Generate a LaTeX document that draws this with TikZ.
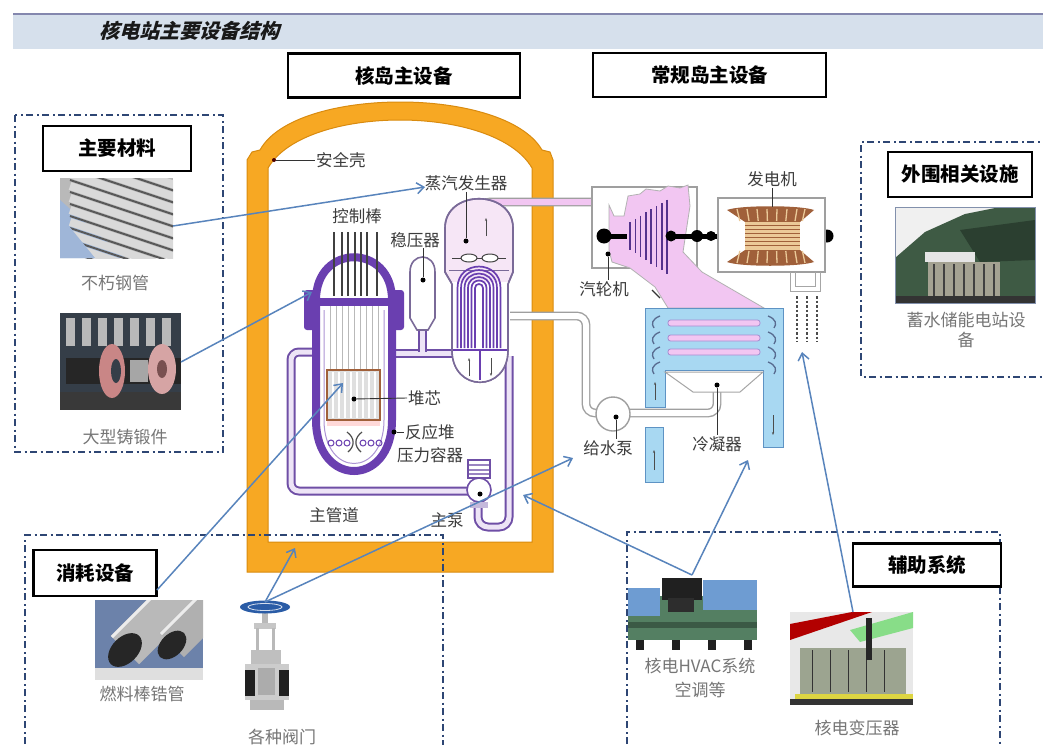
\documentclass[tikz,border=0pt]{standalone}
\usepackage{fontspec}
\newfontfamily\cjk{Noto Sans CJK SC}
\newfontfamily\cjktitle[FakeSlant=0.28]{Noto Sans CJK SC}
\usetikzlibrary{arrows.meta,calc}
\definecolor{hdr}{HTML}{D6E0EC}
\definecolor{hdrline}{HTML}{8487AE}
\definecolor{navy}{HTML}{2E4674}
\definecolor{cont}{HTML}{F7A823}
\definecolor{contedge}{HTML}{D98B0F}
\definecolor{vpurple}{HTML}{6A3FB0}
\definecolor{pipeout}{HTML}{6F4FA6}
\definecolor{pipein}{HTML}{EDE4F6}
\definecolor{sgpink}{HTML}{F6E6F6}
\definecolor{sgedge}{HTML}{7A6A98}
\definecolor{tpink}{HTML}{F2C6F2}
\definecolor{condblue}{HTML}{A8D8F2}
\definecolor{condedge}{HTML}{5E93C4}
\definecolor{linkblue}{HTML}{5884BC}
\definecolor{lblgray}{HTML}{3C3C3C}
\definecolor{plblgray}{HTML}{767676}
\definecolor{coilbrown}{HTML}{A0603A}
\definecolor{coretan}{HTML}{EBC998}
\definecolor{photoblue}{HTML}{9FB6D8}
\definecolor{forgedark}{HTML}{353E48}
\definecolor{pinkdisc}{HTML}{C98686}
\definecolor{hillgreen}{HTML}{3E5A44}
\definecolor{damgray}{HTML}{A4A292}
\definecolor{tubebg}{HTML}{6C82AA}
\definecolor{valveblue}{HTML}{2A5CA6}
\definecolor{hvacgreen}{HTML}{547F62}
\definecolor{hvacblue}{HTML}{6E9CD2}
\definecolor{tankgray}{HTML}{9CA490}
\tikzset{
  titlebox/.style={draw=black, line width=2.8pt, fill=white, inner sep=0pt,
    font=\cjk\bfseries\fontsize{19.5}{19.5}\selectfont},
  ddbox/.style={draw=navy, line width=2.2pt, dash pattern=on 7pt off 3.5pt on 2pt off 3.5pt},
  lbl/.style={font=\cjk\fontsize{16.5}{16.5}\selectfont, text=lblgray, inner sep=1pt},
  plbl/.style={font=\cjk\fontsize{17}{17}\selectfont, text=plblgray, inner sep=1pt},
  link/.style={draw=linkblue, line width=1.5pt, -{Straight Barb[length=7pt,width=11pt]}},
  leader/.style={draw=black!80, line width=0.9pt},
  dotc/.style={circle, fill=black, inner sep=0pt, minimum size=5pt},
  rpipe/.style={draw=pipeout, double=pipein, double distance=5pt, line width=2pt},
  fwpipe/.style={draw=gray!75, double=white, double distance=6pt, line width=1.4pt, rounded corners=9pt},
  stpipe/.style={draw=gray!75, double=tpink, double distance=6pt, line width=1.4pt, rounded corners=8pt},
  vessel/.style={draw=vpurple, line width=8pt},
  photo/.style={draw=none, inner sep=0pt},
}
\begin{document}
\begin{tikzpicture}[x=1pt,y=-1pt]
\useasboundingbox (0,0) rectangle (1043,744);
\clip (0,0) rectangle (1043,744);
\fill[white] (0,0) rectangle (1043,744);

% ---------- header ----------
\fill[hdr] (13,14) rectangle (1043,49);
\draw[hdrline, line width=2pt] (13,14) -- (1043,14);
\node[font=\cjktitle\bfseries\fontsize{20}{20}\selectfont, text=black!90] (title) at (189,31) {核电站主要设备结构};

% ---------- containment ----------
\fill[cont, draw=contedge, line width=1pt, even odd rule]
  (247,572) -- (247,160) -- (252,152) -- (260,150) .. controls (295,86) and (505,86) .. (542,150) -- (550,152) -- (553,160) -- (553,572) -- cycle
  (268,542) -- (268,168) .. controls (305,104) and (495,104) .. (532,168) -- (532,542) -- cycle;
\node[dotc, fill=black!70!red, minimum size=4pt] (dcont) at (274,160) {};
\node[lbl, anchor=west] (lcont) at (315,160) {安全壳};
\draw[leader] (dcont) -- (lcont.west);

% ---------- steam & feedwater pipes ----------
\draw[stpipe] (482,212) -- (482,202) -- (614,202) -- (614,224);
\draw[fwpipe] (510,316) -- (586,316) -- (586,413) -- (600,413);
\draw[fwpipe] (628,413) -- (717,413) -- (717,384);

% ---------- reactor coolant loop ----------
\draw[rpipe, rounded corners=8pt] (318,352) -- (291,352) -- (291,491) -- (470,491);
\draw[rpipe] (392,353) -- (458,353);
\draw[rpipe, rounded corners=10pt] (478,500) -- (478,527) -- (509,527) -- (509,356);
\draw[rpipe] (422,320) -- (422,352);

% main pump
\node[circle, draw=pipeout, line width=1.6pt, fill=white, minimum size=24pt, inner sep=0pt] (mpump) at (479,490) {};
\fill[white, draw=pipeout, line width=1.4pt] (468,460) rectangle (490,478);
\foreach \yy in {465,470,474} \draw[pipeout!70, line width=1.5pt] (469,\yy) -- (489,\yy);
\fill[pipeout!40] (470,502) rectangle (488,508);
\node[dotc] (dpump) at (480,494) {};
\node[lbl] (lpump) at (447,520) {主泵};
\node[lbl] (lpipe) at (334,515) {主管道};

% ---------- reactor pressure vessel ----------
\fill[white] (316,300) .. controls (316,243) and (392,243) .. (392,300) -- (392,420) .. controls (392,488) and (316,488) .. (316,420) -- cycle;
\draw[vessel] (316,300) .. controls (316,243) and (392,243) .. (392,300);
\draw[vessel] (316,306) -- (316,420) .. controls (316,488) and (392,488) .. (392,420) -- (392,306);
\fill[vpurple, rounded corners=3pt] (304,290) rectangle (319,330);
\fill[vpurple, rounded corners=3pt] (389,290) rectangle (404,330);
\fill[vpurple] (312,298) rectangle (396,306);
\draw[vpurple!55, line width=1pt] (324,310) -- (324,420) .. controls (324,478) and (384,478) .. (384,420) -- (384,310);
% guide tubes and control rods
\foreach \x in {330,336,342,348,354,360,366,372,378}
  \draw[gray!55, line width=1pt] (\x,306) -- (\x,370);
\foreach \x in {334,342,348,355,361,367,377}
  \draw[black!75, line width=1.3pt] (\x,232) -- (\x,296);
\node[lbl] (lrods) at (357,216) {控制棒};
% core
\draw[coilbrown, line width=2.2pt, fill=gray!25] (327,370) rectangle (380,420);
\foreach \x in {333,339,345,351,357,363,369,375}
  \draw[white, line width=1.2pt] (\x,372) -- (\x,418);
\fill[pink!60] (327,421) rectangle (380,426);
% lower internals
\foreach \x in {331,339,347,363,371,379}
  \draw[vpurple, line width=1pt] (\x,443) circle (3);
\draw[black!70, line width=1.2pt] (347,432) .. controls (355,438) and (355,446) .. (348,452);
\draw[black!70, line width=1.2pt] (362,432) .. controls (354,438) and (354,446) .. (361,452);
\node[dotc] (dcore) at (354,399) {};
\node[lbl, anchor=west] (lcore) at (407,398) {堆芯};
\draw[leader] (dcore) -- (lcore.west);
\node[dotc] (dvessel) at (394,432) {};
\node[lbl, anchor=west] (lvessel) at (404,432) {反应堆};
\node[lbl, anchor=west] (lvessel2) at (396,455) {压力容器};
\draw[leader] (dvessel) -- (lvessel.west);

% ---------- pressurizer ----------
\draw[sgedge, line width=1.6pt, fill=white] (410,318) -- (410,272) .. controls (410,252) and (435,252) .. (435,272) -- (435,318) -- (428,330) -- (417,330) -- cycle;
\node[dotc] (dpzr) at (423,280) {};
\node[lbl] (lpzr) at (415,240) {稳压器};
\draw[leader] (423,248) -- (dpzr);

% ---------- steam generator ----------
\path[fill=sgpink, draw=sgedge, line width=1.6pt]
  (445,272) -- (445,228) .. controls (445,189) and (513,189) .. (513,228) -- (513,272) -- (508,284) -- (508,350) .. controls (508,393) and (452,393) .. (452,350) -- (452,284) -- cycle;
\begin{scope}
  \clip (445,272) -- (445,228) .. controls (445,189) and (513,189) .. (513,228) -- (513,272) -- (508,284) -- (508,350) .. controls (508,393) and (452,393) .. (452,350) -- (452,284) -- cycle;
  \fill[white] (440,282) rectangle (520,400);
\end{scope}
\draw[sgedge, line width=1.6pt] (445,272) -- (445,228) .. controls (445,189) and (513,189) .. (513,228) -- (513,272) -- (508,284) -- (508,350) .. controls (508,393) and (452,393) .. (452,350) -- (452,284) -- cycle;
\draw[sgedge, line width=1pt] (449,270) -- (509,270);
\foreach \r in {4,7.5,11,14.5,18,21.5}
  \draw[vpurple, line width=1.7pt] (479-\r,348) -- (479-\r,288) .. controls (479-\r,288-1.33*\r) and (479+\r,288-1.33*\r) .. (479+\r,288) -- (479+\r,348);
\draw[vpurple, line width=2pt] (453,350) -- (507,350);
\draw[vpurple, line width=1.2pt] (480,350) -- (480,380);
\draw[black!70, line width=1pt, -{Stealth[length=3pt]}] (469,376) -- (469,358);
\draw[black!70, line width=1pt, -{Stealth[length=3pt]}] (491,358) -- (491,376);
\draw[black!75, line width=1pt] (452,258) -- (506,258);
\draw[black!75, line width=1pt, fill=white] (469,258) ellipse (8 and 4);
\draw[black!75, line width=1pt, fill=white] (490,258) ellipse (8 and 4);
\draw[black!70, line width=1pt, -{Stealth[length=3pt]}] (486,236) -- (486,218);
\node[dotc] (dsg) at (466,241) {};
\node[lbl] (lsg) at (466,183) {蒸汽发生器};
\draw[leader] (lsg.south -| dsg) -- (dsg);

% ---------- turbine ----------
\draw[gray!75, line width=1.2pt, fill=white] (592,187) rectangle (697,268);
\fill[tpink, draw=gray!60, line width=0.8pt] (609,205) -- (614,216) -- (624,216) -- (628,196) -- (640,194) -- (646,189) -- (660,191) -- (668,186) -- (680,188) -- (688,185) -- (690,206) -- (683,252) -- (702,272) -- (764,308) -- (668,308) -- (655,287) -- (630,268) -- (612,262) -- (609,250) -- cycle;
\foreach \i in {0,...,7} {
  \pgfmathsetmacro\xx{630+\i*5.3}
  \pgfmathsetmacro\yt{222-\i*3.2}
  \pgfmathsetmacro\yb{250+\i*3.4}
  \draw[vpurple!80!black, line width=1.6pt] (\xx,\yt) -- (\xx,\yb);
}
\draw[black!80, line width=1.2pt] (652,290) -- (660,298);
% shaft
\draw[black, line width=5pt] (597,236) -- (627,236);
\draw[black, line width=5pt] (668,236) -- (831,236);
\fill[black] (604,236) circle (7.5);
\fill[black] (671,236) circle (5.5);
\fill[black] (697,236) circle (6);
\fill[black] (711,236) circle (5);
\fill[black] (827,236) circle (6.5);
\node[dotc] (dturb) at (608,254) {};
\node[lbl] (lturb) at (604,289) {汽轮机};
\draw[leader] (dturb) -- (lturb.north -| dturb);

% ---------- generator ----------
\draw[gray!75, line width=1.2pt, fill=white] (718,198) rectangle (825,272);
\fill[coilbrown] (727,210) .. controls (740,205) and (800,205) .. (814,210) -- (800,222) -- (745,222) -- cycle;
\fill[coilbrown] (727,262) .. controls (740,267) and (800,267) .. (814,262) -- (800,250) -- (745,250) -- cycle;
\foreach \x in {737,747,757,767,777,787,797,805} {
  \pgfmathsetmacro\xb{\x+(772-\x)*0.08}
  \draw[coretan, line width=1.3pt] (\x,209) -- (\xb,221) (\x,263) -- (\xb,251);
}
\fill[coretan] (745,222) rectangle (800,250);
\foreach \yy in {225,229,233,237,241,245}
  \draw[coilbrown, line width=1pt] (745,\yy) -- (800,\yy);
\draw[gray!70, line width=1pt] (790,272) -- (790,291) -- (820,291) -- (820,272);
\draw[gray!70, line width=1pt] (795,272) -- (795,286) -- (815,286) -- (815,272);
\foreach \x in {797,807,817}
  \draw[black!70, line width=1.6pt, dash pattern=on 2.5pt off 2pt] (\x,296) -- (\x,342);
\node[lbl] (lgen) at (772,179) {发电机};
\draw[leader] (lgen.south) -- (772,207);

% ---------- condenser ----------
\fill[condblue, draw=condedge, line width=1pt] (645,308) -- (783,308) -- (783,447) -- (763,447) -- (763,370) -- (665,370) -- (665,407) -- (645,407) -- cycle;
\fill[condblue, draw=condedge, line width=1pt] (645,427) rectangle (663,482);
\foreach \yy in {323,338,352}
  \fill[tpink, draw=vpurple!60, line width=0.8pt, rounded corners=2.5pt] (668,\yy-3) rectangle (760,\yy+3);
\foreach \yy in {316,332,347,362} {
  \draw[navy!80, line width=1.3pt] (660,\yy) .. controls (652,\yy+3) and (651,\yy+8) .. (654,\yy+12);
  \draw[navy!80, line width=1.3pt] (768,\yy) .. controls (776,\yy+3) and (777,\yy+8) .. (774,\yy+12);
}
\fill[white, draw=gray!70, line width=1pt] (665,372) -- (763,372) -- (740,392) -- (693,392) -- cycle;
\draw[black!70, line width=1pt, -{Stealth[length=3pt]}] (655,400) -- (655,382);
\draw[black!70, line width=1pt, -{Stealth[length=3pt]}] (654,470) -- (654,450);
\draw[black!70, line width=1pt, -{Stealth[length=3pt]}] (773,415) -- (773,435);
\node[dotc] (dcond) at (717,385) {};
\node[lbl] (lcond) at (717,444) {冷凝器};
\draw[leader] (dcond) -- (lcond.north);

% feedwater pump
\node[circle, draw=gray!75, line width=1.4pt, fill=white, minimum size=34pt, inner sep=0pt] (fwpump) at (613,414) {};
\node[dotc] (dfw) at (616,417) {};
\node[lbl] (lfw) at (608,448) {给水泵};
\draw[leader] (dfw) -- (lfw.north -| dfw);

% ---------- title boxes ----------
\node[titlebox, minimum width=232pt, minimum height=44pt] (bnuc) at (404,75.5) {核岛主设备};
\node[titlebox, minimum width=233pt, minimum height=44pt] (bconv) at (709.5,75) {常规岛主设备};

% ---------- left group: main materials ----------
\draw[ddbox] (15,115) rectangle (223,452);
\node[titlebox, minimum width=148pt, minimum height=45pt] (bmat) at (117,148.5) {主要材料};
\begin{scope}
  \clip (60,178) rectangle (173,258);
  \fill[gray!55] (60,178) rectangle (173,258);
  \fill[photoblue] (60,200) -- (60,258) -- (125,258) -- cycle;
  \foreach \k in {0,...,8} {
    \draw[line width=8pt, gray!30] (70,150+\k*12) -- (175,185+\k*12);
    \draw[line width=2pt, gray!70!black] (70,156+\k*12) -- (175,191+\k*12);
  }
  \fill[photoblue] (60,215) -- (60,258) -- (95,258) -- cycle;
\end{scope}
\node[photo, minimum width=113pt, minimum height=80pt] (ppipe) at (116.5,218) {};
\node[plbl] (lppipe) at (115,283) {不朽钢管};
\begin{scope}
  \clip (60,313) rectangle (181,410);
  \fill[forgedark] (60,313) rectangle (181,410);
  \foreach \x in {66,82,98,114,130,146,162}
    \fill[gray!55] (\x,318) rectangle (\x+9,346);
  \fill[gray!45!black] (60,392) rectangle (181,410);
  \fill[gray!30!black] (66,358) rectangle (181,384);
  \fill[pinkdisc] (112,371) ellipse (13 and 27);
  \fill[forgedark] (116,371) ellipse (5 and 12);
  \fill[pinkdisc!75!white] (162,369) ellipse (14 and 25);
  \fill[pinkdisc!60!black] (162,369) ellipse (5 and 9);
  \fill[gray!70] (130,360) rectangle (148,382);
\end{scope}
\node[photo, minimum width=121pt, minimum height=97pt] (pforge) at (120.5,361.5) {};
\node[plbl] (lpforge) at (125,437) {大型铸锻件};

% ---------- right group: peripheral facilities ----------
\draw[ddbox] (1050,142) -- (861,142) -- (861,377) -- (1050,377);
\node[titlebox, minimum width=144pt, minimum height=45pt] (bperi) at (960,174.5) {外围相关设施};
\begin{scope}
  \clip (895,207) rectangle (1035,303);
  \fill[gray!12] (895,207) rectangle (1035,303);
  \fill[hillgreen] (895,258) -- (925,232) -- (965,214) -- (1000,207) -- (1035,207) -- (1035,303) -- (895,303) -- cycle;
  \fill[hillgreen!70!black] (960,230) -- (1035,220) -- (1035,260) -- (980,262) -- cycle;
  \fill[gray!20] (925,252) rectangle (975,262);
  \fill[damgray] (928,262) rectangle (1000,298);
  \foreach \x in {934,944,954,964,974,984,994}
    \draw[gray!50!black, line width=1.5pt] (\x,264) -- (\x,296);
  \fill[gray!40!black] (895,296) rectangle (1035,303);
\end{scope}
\node[photo, draw=navy!60, line width=0.8pt, minimum width=140pt, minimum height=96pt] (pstore) at (965,255) {};
\node[plbl] (lpstore) at (966,320) {蓄水储能电站设};
\node[plbl] (lpstore2) at (966,340) {备};

% ---------- bottom-left group: consumables ----------
\draw[ddbox] (25,760) -- (25,535) -- (443,535) -- (443,760);
\node[titlebox, minimum width=123pt, minimum height=46pt] (bcons) at (95,573) {消耗设备};
\begin{scope}
  \clip (95,600) rectangle (203,680);
  \fill[tubebg] (95,600) rectangle (203,680);
  \fill[gray!25] (95,668) rectangle (203,680);
  \draw[line width=40pt, gray!55] (125,650) -- (185,590);
  \draw[line width=3pt, gray!15] (112,637) -- (172,577);
  \draw[line width=34pt, gray!62] (172,645) -- (225,592);
  \draw[line width=3pt, gray!15] (161,634) -- (214,581);
  \fill[black!85, rotate around={45:(125,650)}] (125,650) ellipse (20 and 13);
  \fill[black!85, rotate around={45:(172,645)}] (172,645) ellipse (17 and 11);
\end{scope}
\node[photo, minimum width=108pt, minimum height=80pt] (ptube) at (149,640) {};
\node[plbl] (lptube) at (142,694) {燃料棒锆管};
% valve
\fill[gray!55] (262,611) rectangle (268,626);
\fill[gray!45] (254,623) rectangle (276,629);
\draw[gray!55, line width=3pt] (257,628) -- (257,652) (273,628) -- (273,652);
\fill[gray!50] (251,650) rectangle (281,664);
\fill[gray!40] (245,664) rectangle (289,700);
\fill[gray!25!black] (245,670) rectangle (255,696);
\fill[gray!25!black] (279,670) rectangle (289,696);
\fill[gray!65] (258,668) rectangle (275,695);
\fill[gray!55] (250,700) rectangle (284,710);
\fill[valveblue] (265,607) ellipse (25 and 6.5);
\draw[white!80!valveblue, line width=0.8pt] (265,607) ellipse (17 and 3.5);
\node[photo, minimum width=50pt, minimum height=110pt] (pvalve) at (265,656) {};
\node[plbl] (lpvalve) at (282,737) {各种阀门};

% ---------- bottom-right group: auxiliary systems ----------
\draw[ddbox] (627,760) -- (627,532) -- (1000,532) -- (1000,760);
\node[titlebox, minimum width=148pt, minimum height=43pt] (baux) at (927,565) {辅助系统};
% HVAC
\fill[hvacgreen] (628,596) rectangle (757,640);
\fill[hvacgreen!70!black] (628,622) rectangle (757,628);
\foreach \x in {636,672,708,744} \fill[gray!25!black] (\x,640) rectangle (\x+8,650);
\fill[hvacblue] (628,588) rectangle (660,616);
\fill[hvacblue] (703,580) rectangle (757,610);
\fill[gray!25!black] (662,578) rectangle (702,600);
\fill[gray!35!black] (668,598) rectangle (694,612);
\node[photo, minimum width=129pt, minimum height=75pt] (phvac) at (692.5,612.5) {};
\node[plbl] (lphvac) at (700,666) {核电HVAC系统};
\node[plbl] (lphvac2) at (700,690) {空调等};
% transformer
\begin{scope}
  \clip (790,612) rectangle (913,705);
  \fill[gray!18] (790,612) rectangle (913,705);
  \fill[red!70!black] (790,624) -- (852,612) -- (872,612) -- (790,640) -- cycle;
  \fill[gray!45!green!60!white] (850,630) -- (913,612) -- (913,628) -- (860,642) -- cycle;
  \fill[tankgray] (800,648) rectangle (906,694);
  \foreach \x in {812,830,848,866,884} \draw[gray!40!black, line width=1pt] (\x,650) -- (\x,692);
  \fill[gray!30!black] (866,618) rectangle (872,660);
  \fill[yellow!70!gray] (795,694) rectangle (913,699);
  \fill[gray!40!black] (790,699) rectangle (913,705);
\end{scope}
\node[photo, minimum width=123pt, minimum height=93pt] (ptrans) at (851.5,658.5) {};
\node[plbl] (lptrans) at (857,728) {核电变压器};

% ---------- links ----------
\coordinate (s1) at (173,226);
\coordinate (e1) at (425,187);
\coordinate (s2) at (181,362);
\coordinate (e2) at (312,292);
\coordinate (s3) at (157,590);
\coordinate (e3) at (343,383);
\coordinate (sv) at (265,602);
\coordinate (e4) at (295,548);
\coordinate (e5) at (573,458);
\coordinate (sh) at (692,575);
\coordinate (e6) at (523,495);
\coordinate (e7) at (748,460);
\coordinate (st) at (853,612);
\coordinate (e8) at (802,352);
\draw[link] (s1) -- (e1);
\draw[link] (s2) -- (e2);
\draw[link] (s3) -- (e3);
\draw[link] (sv) -- (e4);
\draw[link] (sv) -- (e5);
\draw[link] (sh) -- (e6);
\draw[link] (sh) -- (e7);
\draw[link] (st) -- (e8);
\end{tikzpicture}
\end{document}
